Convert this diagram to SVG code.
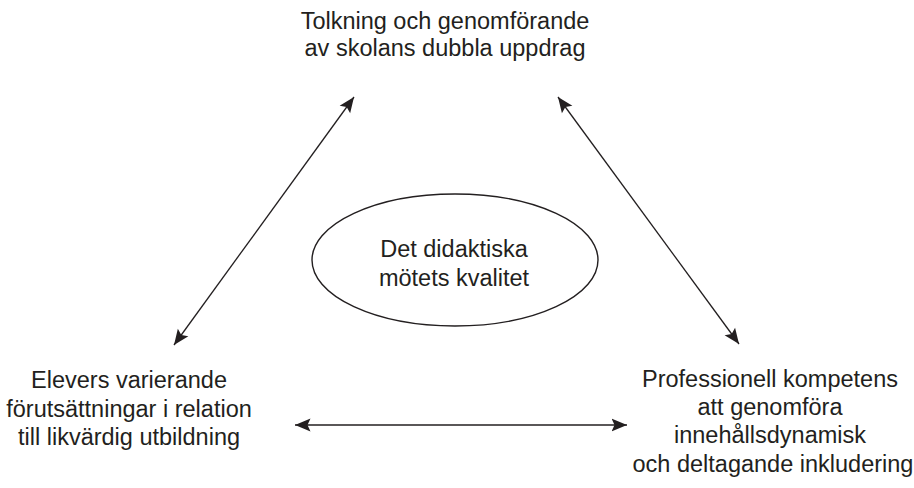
<svg xmlns="http://www.w3.org/2000/svg" width="914" height="488" viewBox="0 0 914 488">
  <style>
    text { font-family: "Liberation Sans", Arial, sans-serif; font-size: 23.5px; fill: #231f20; text-anchor: middle; }
    .conn { stroke: #231f20; stroke-width: 1.3; fill: none; marker-start: url(#arrow); marker-end: url(#arrow); }
    .shape { stroke: #231f20; stroke-width: 1.4; fill: #ffffff; }
  </style>
  <defs>
    <marker id="arrow" viewBox="0 -7 16 14" refX="15.5" refY="0" markerWidth="16" markerHeight="14" markerUnits="userSpaceOnUse" orient="auto-start-reverse">
      <path d="M0,-6.5 L15.5,0 L0,6.5 L3,0 Z" fill="#231f20"/>
    </marker>
  </defs>
  <rect width="914" height="488" fill="#ffffff"/>
  <g id="connectors">
    <line class="conn" x1="174" y1="345" x2="354" y2="97"/>
    <line class="conn" x1="558" y1="97" x2="739" y2="344"/>
    <line class="conn" x1="295" y1="425" x2="627" y2="425"/>
  </g>
  <g id="node-top">
    <text x="445" y="29">Tolkning och genomförande</text>
    <text x="445" y="56">av skolans dubbla uppdrag</text>
  </g>
  <g id="node-center">
    <ellipse class="shape" cx="455" cy="260" rx="143" ry="66"/>
    <text x="454" y="257">Det didaktiska</text>
    <text x="454" y="286">mötets kvalitet</text>
  </g>
  <g id="node-left">
    <text x="129" y="388">Elevers varierande</text>
    <text x="129" y="417">förutsättningar i relation</text>
    <text x="129" y="445">till likvärdig utbildning</text>
  </g>
  <g id="node-right">
    <text x="770" y="387">Professionell kompetens</text>
    <text x="770" y="415">att genomföra</text>
    <text x="770" y="443">innehållsdynamisk</text>
    <text x="773" y="472">och deltagande inkludering</text>
  </g>
</svg>
